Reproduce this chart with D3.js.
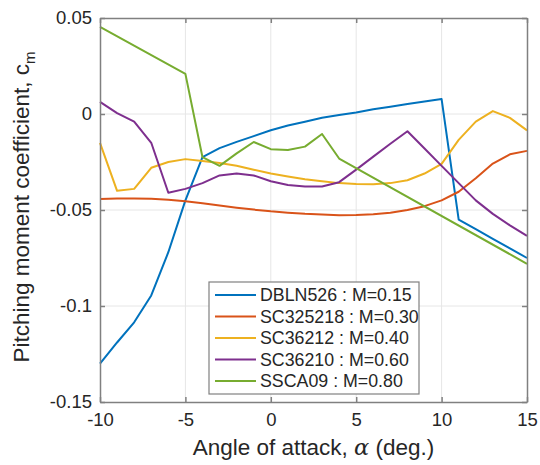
<!DOCTYPE html>
<html lang="en">
<head>
	<meta charset="utf-8">
	<title>Pitching moment coefficient</title>
<style>
body {
	margin: 0;
	background: #fff;
}
svg {
	display: block;
	font-family: "Liberation Sans", Arial, sans-serif;
}
.grid line {
	stroke: #e6e6e6;
	stroke-width: 1px;
}
.tick-label {
	font-size: 18.5px;
	fill: #262626;
}
.axis-label {
	font-size: 22.5px;
	fill: #262626;
}
.legend-text {
	font-size: 17.8px;
	fill: #262626;
}
</style>
</head>
<body>
<div id="chart"></div>
<script src="https://d3js.org/d3.v7.min.js"></script>
<script>
	// angle of attack (deg.)
	var alpha = [-10, -9, -8, -7, -6, -5, -4, -3, -2, -1, 0, 1, 2, 3, 4, 5, 6, 7, 8, 9, 10, 11, 12, 13, 14, 15];
	var alphaSSCA = [-10, -5, -4, -3, -2, -1, 0, 1, 2, 3, 4, 15];

	var cmDBLN526 = [-0.130, -0.119, -0.1085, -0.0945, -0.072, -0.045, -0.0225, -0.0178, -0.0145, -0.0115, -0.0085, -0.006, -0.004, -0.002, -0.0005, 0.0008, 0.0025, 0.0038, 0.0052, 0.0065, 0.0078, -0.055, -0.060, -0.065, -0.070, -0.075];
	var cmSC325218 = [-0.0443, -0.044, -0.044, -0.0442, -0.0447, -0.0455, -0.0465, -0.0477, -0.0488, -0.0498, -0.0507, -0.0514, -0.052, -0.0524, -0.0527, -0.0526, -0.0522, -0.0514, -0.050, -0.048, -0.045, -0.0405, -0.0335, -0.0258, -0.021, -0.0192];
	var cmSC36212 = [-0.015, -0.040, -0.039, -0.028, -0.025, -0.0235, -0.0245, -0.0255, -0.027, -0.029, -0.031, -0.0325, -0.034, -0.035, -0.036, -0.0365, -0.0366, -0.036, -0.0345, -0.031, -0.026, -0.0135, -0.004, 0.0015, -0.002, -0.0085];
	var cmSC36210 = [0.0063, 0.0005, -0.004, -0.015, -0.041, -0.039, -0.036, -0.032, -0.031, -0.032, -0.035, -0.037, -0.0378, -0.0378, -0.0355, -0.029, -0.0222, -0.0155, -0.009, -0.018, -0.027, -0.036, -0.045, -0.052, -0.058, -0.0635];
	var cmSSCA09 = [0.0454, 0.0209, -0.0225, -0.027, -0.0205, -0.0146, -0.0183, -0.0188, -0.017, -0.0104, -0.0232, -0.078];

	var seriesNames = ["DBLN526 : M=0.15", "SC325218 : M=0.30", "SC36212 : M=0.40", "SC36210 : M=0.60", "SSCA09 : M=0.80"];
	var seriesColors = ["#0072bd", "#d95319", "#edb120", "#7e2f8e", "#77ac30"];

	var xTicks = [-10, -5, 0, 5, 10, 15];
	var yTicks = [-0.15, -0.1, -0.05, 0, 0.05];
	var yTickLabels = ["-0.15", "-0.1", "-0.05", "0", "0.05"];

	var series = [
		{x: alpha, y: cmDBLN526},
		{x: alpha, y: cmSC325218},
		{x: alpha, y: cmSC36212},
		{x: alpha, y: cmSC36210},
		{x: alphaSSCA, y: cmSSCA09}
	];

	var width = 540,
		height = 465,
		plotLeft = 100,
		plotRight = 527,
		plotTop = 18,
		plotBottom = 402;

	var svg = d3.select("#chart").append("svg")
		.attr("width", width)
		.attr("height", height);

	var x = d3.scaleLinear().domain([-10, 15]).range([plotLeft, plotRight]);
	var y = d3.scaleLinear().domain([-0.15, 0.05]).range([plotBottom, plotTop]);

	// grid
	var grid = svg.append("g").attr("class", "grid");
	grid.selectAll("line.gx").data(xTicks.slice(1, -1)).enter().append("line")
		.attr("x1", function(d) { return x(d); })
		.attr("x2", function(d) { return x(d); })
		.attr("y1", plotTop).attr("y2", plotBottom);
	grid.selectAll("line.gy").data(yTicks.slice(1, -1)).enter().append("line")
		.attr("y1", function(d) { return y(d); })
		.attr("y2", function(d) { return y(d); })
		.attr("x1", plotLeft).attr("x2", plotRight);

	// lines
	var line = d3.line()
		.x(function(d) { return x(d[0]); })
		.y(function(d) { return y(d[1]); });

	svg.append("g").selectAll("path").data(series).enter().append("path")
		.attr("d", function(s) { return line(d3.zip(s.x, s.y)); })
		.attr("fill", "none")
		.attr("stroke", function(s, i) { return seriesColors[i]; })
		.attr("stroke-width", 2)
		.attr("stroke-linejoin", "round");

	// axes, ticks inside on all four sides
	var axisColor = "#808080";
	var xb = svg.append("g").attr("transform", "translate(0," + plotBottom + ")")
		.call(d3.axisBottom(x).tickValues(xTicks).tickSizeInner(-5).tickSizeOuter(0).tickFormat(function(d) { return String(d); }));
	var xt = svg.append("g").attr("transform", "translate(0," + plotTop + ")")
		.call(d3.axisTop(x).tickValues(xTicks).tickSizeInner(-5).tickSizeOuter(0).tickFormat(""));
	var yl = svg.append("g").attr("transform", "translate(" + plotLeft + ",0)")
		.call(d3.axisLeft(y).tickValues(yTicks).tickSizeInner(-5).tickSizeOuter(0).tickFormat(function(d, i) { return yTickLabels[i]; }));
	var yr = svg.append("g").attr("transform", "translate(" + plotRight + ",0)")
		.call(d3.axisRight(y).tickValues(yTicks).tickSizeInner(-5).tickSizeOuter(0).tickFormat(""));

	[xb, xt, yl, yr].forEach(function(a) {
		a.attr("font-size", null).attr("font-family", null);
		a.select(".domain").attr("stroke", axisColor).attr("stroke-width", 1.5);
		a.selectAll(".tick line").attr("stroke", axisColor).attr("stroke-width", 1.5);
		a.selectAll(".tick text").attr("class", "tick-label").attr("fill", null);
	});
	xb.selectAll(".tick text").attr("y", 11);
	yl.selectAll(".tick text").attr("x", -8);

	// axis labels
	var xl = svg.append("text").attr("class", "axis-label")
		.attr("x", (plotLeft + plotRight) / 2).attr("y", 455)
		.attr("text-anchor", "middle");
	xl.append("tspan").text("Angle of attack, ");
	xl.append("tspan").text("\u03b1").attr("font-family", "'DejaVu Serif', serif").attr("font-style", "italic");
	xl.append("tspan").text(" (deg.)");

	var ylab = svg.append("text").attr("class", "axis-label")
		.attr("transform", "translate(29," + ((plotTop + plotBottom) / 2 - 3) + ") rotate(-90)")
		.attr("text-anchor", "middle");
	ylab.append("tspan").text("Pitching moment coefficient, c");
	ylab.append("tspan").text("m").attr("font-size", "15px").attr("dy", 6);

	// legend
	var lg = svg.append("g").attr("transform", "translate(209,282)");
	lg.append("rect")
		.attr("width", 210).attr("height", 112)
		.attr("fill", "#fff")
		.attr("stroke", "#808080")
		.attr("stroke-width", 1.2);
	var item = lg.selectAll("g.item").data(seriesNames).enter().append("g")
		.attr("transform", function(d, i) { return "translate(0," + (13 + i * 21.5) + ")"; });
	item.append("line")
		.attr("x1", 6).attr("x2", 47)
		.attr("stroke", function(d, i) { return seriesColors[i]; })
		.attr("stroke-width", 2);
	item.append("text").attr("class", "legend-text")
		.attr("x", 51).attr("dy", "0.35em")
		.text(function(d) { return d; });
</script>
</body>
</html>
